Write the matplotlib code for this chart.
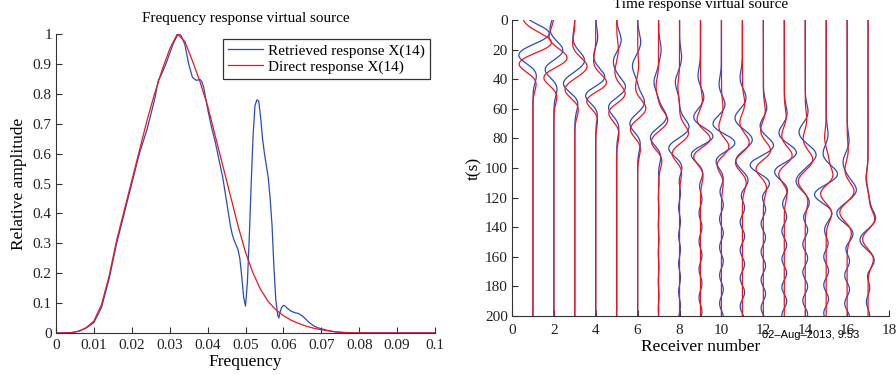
import numpy as np
import matplotlib
matplotlib.use("Agg")
import matplotlib.pyplot as plt

plt.rcParams['font.family'] = ['Liberation Serif', 'DejaVu Serif']

# Frequency response
freq_direct = np.arange(0, 0.1001, 0.002)
amp_direct = np.array([
    0, 0, 0.001, 0.006, 0.018, 0.04, 0.095, 0.19, 0.31, 0.41,
    0.51, 0.61, 0.71, 0.80, 0.88, 0.95, 1.0, 0.975, 0.91, 0.84,
    0.76, 0.66, 0.56, 0.46, 0.36, 0.27, 0.20, 0.145, 0.105, 0.078,
    0.058, 0.043, 0.032, 0.023, 0.016, 0.011, 0.007, 0.004, 0.002, 0.001,
    0, 0, 0, 0, 0, 0, 0, 0, 0, 0, 0])

freq_retr = np.array([
    0, 0.004, 0.006, 0.008, 0.010, 0.012, 0.014, 0.016, 0.018, 0.020,
    0.022, 0.024, 0.026, 0.027, 0.028, 0.029, 0.030, 0.031, 0.032, 0.0325,
    0.033, 0.034, 0.035, 0.036, 0.037, 0.038, 0.0385, 0.039, 0.040, 0.041,
    0.042, 0.043, 0.044, 0.045, 0.046, 0.0465, 0.047, 0.0475, 0.048, 0.0485,
    0.049, 0.0495, 0.050, 0.0505, 0.051, 0.0515, 0.052, 0.0525, 0.053, 0.0535,
    0.054, 0.0545, 0.055, 0.0555, 0.056, 0.0565, 0.057, 0.0575, 0.058, 0.0585,
    0.0588, 0.059, 0.0595, 0.060, 0.0605, 0.061, 0.062, 0.063, 0.064, 0.065,
    0.066, 0.067, 0.068, 0.069, 0.070, 0.071, 0.072, 0.074, 0.076, 0.078, 0.1])
amp_retr = np.array([
    0, 0.001, 0.006, 0.017, 0.035, 0.085, 0.18, 0.30, 0.40, 0.50,
    0.60, 0.68, 0.78, 0.845, 0.87, 0.90, 0.935, 0.97, 0.995, 1.0,
    0.995, 0.965, 0.90, 0.855, 0.845, 0.848, 0.84, 0.82, 0.75, 0.69,
    0.64, 0.58, 0.52, 0.44, 0.36, 0.33, 0.31, 0.295, 0.28, 0.25,
    0.19, 0.12, 0.09, 0.17, 0.32, 0.50, 0.66, 0.76, 0.78, 0.775,
    0.72, 0.65, 0.60, 0.56, 0.52, 0.45, 0.36, 0.22, 0.11, 0.06,
    0.05, 0.065, 0.085, 0.092, 0.09, 0.083, 0.073, 0.068, 0.065, 0.057,
    0.045, 0.033, 0.024, 0.018, 0.014, 0.011, 0.007, 0.003, 0.001, 0, 0])

# Time response: lobe times (s) and amplitudes (receiver units) per trace
receivers = np.arange(1, 18)
red_lobe_t = [
    [-1, 15.5, 29.5, 41], [12, 26, 38.5, 50], [17, 31.5, 47, 59],
    [29, 43, 54, 65], [20, 36, 50.5, 62, 76], [30, 47, 60, 73.5, 86],
    [45, 68, 82, 94], [45, 77, 90, 101], [55, 68, 81, 91, 104],
    [60, 73, 86, 97, 109], [57, 70, 83, 96, 109], [62, 75, 89, 100, 112],
    [66, 79, 92, 103.5, 116], [68, 81, 94.5, 109, 121], [80, 93, 106, 117, 130],
    [88, 102, 116, 130, 143], [106, 121, 135, 148, 161]]
red_lobe_a = [
    [-0.48, 0.92, -0.72, 0.2], [-0.25, 0.68, -0.55, 0.18], [-0.12, 0.6, -0.5, 0.2],
    [-0.12, 0.58, -0.52, 0.12], [0.08, -0.1, 0.45, -0.43, 0.12], [0.05, -0.12, 0.42, -0.38, 0.15],
    [-0.12, 0.45, -0.38, 0.18], [-0.08, 0.45, -0.4, 0.13], [0.1, -0.2, 0.55, -0.42, 0.14],
    [0.08, -0.15, 0.4, -0.26, 0.1], [0.12, -0.15, 0.36, -0.37, 0.2], [0.1, -0.15, 0.4, -0.42, 0.18],
    [0.1, -0.15, 0.42, -0.32, 0.15], [0.08, -0.12, 0.38, -0.36, 0.15], [-0.08, 0.1, 0.35, -0.33, 0.28],
    [0.06, -0.12, 0.35, -0.38, 0.22], [-0.08, 0.04, 0.33, -0.3, 0.27]]
blue_lobe_t = [
    [-3, 9, 23.5, 36], [7, 21, 33, 45], [13, 27.5, 43, 55],
    [12, 25, 39.5, 50.5, 61], [14, 28, 46, 58.5, 72], [15, 31, 56, 70, 82],
    [20, 42, 66, 79, 91], [25, 42, 73, 86.5, 98], [38, 53, 66.5, 79, 90, 102],
    [44, 58, 71, 83, 94, 106], [40, 53, 66.5, 81, 95, 108], [60, 72, 85.5, 98, 109],
    [64, 77, 90, 102, 114], [63, 76, 91, 109, 123], [78, 91, 104.5, 118, 129.5, 141],
    [82, 96, 115, 131, 144], [107, 121, 134.5, 148.5, 162]]
blue_lobe_a = [
    [-0.45, 0.85, -0.72, 0.2], [-0.2, 0.48, -0.48, 0.18], [-0.1, 0.48, -0.57, 0.18],
    [0.1, -0.12, 0.5, -0.57, 0.12], [0.22, -0.17, 0.45, -0.43, 0.12], [0.15, -0.25, 0.34, -0.4, 0.15],
    [0.12, -0.22, 0.4, -0.43, 0.13], [0.1, -0.2, 0.48, -0.56, 0.16], [-0.12, 0.18, -0.38, 0.7, -0.54, 0.15],
    [-0.12, 0.2, -0.48, 0.74, -0.35, 0.12], [-0.12, 0.2, -0.38, 0.5, -0.35, 0.3], [0.18, -0.2, 0.55, -0.73, 0.38],
    [0.15, -0.3, 0.65, -0.54, 0.2], [0.15, -0.32, 0.53, -0.45, 0.22], [0.1, -0.18, 0.58, -0.63, 0.35, -0.12],
    [0.1, -0.2, 0.45, -0.52, 0.32], [-0.1, 0.05, 0.37, -0.42, 0.32]]
# residual ringing on the retrieved traces after the main arrival
blue_tail_amp = [0, 0, 0, 0, 0, 0, 0.02, 0.05, 0.08, 0.1, 0.12, 0.12, 0.13, 0.13, 0.13, 0.13, 0.09]
tail_half_period = 9.5

t = np.linspace(0, 200, 801)


def wiggle(lobe_t, lobe_a, tail=0.0, sigma=5.6):
    w = np.zeros_like(t)
    for tc, a in zip(lobe_t, lobe_a):
        w += a * np.exp(-0.5 * ((t - tc) / sigma) ** 2)
    if tail > 0:
        sign = -np.sign(lobe_a[-1])
        for tc in np.arange(lobe_t[-1] + tail_half_period, 210, tail_half_period):
            w += sign * tail * np.exp(-0.5 * ((t - tc) / 4.0) ** 2)
            sign = -sign
    return w


blue = '#2b4bbd'
red = '#f0141e'

fig = plt.figure(figsize=(8.96, 3.75), dpi=100)

# Left: frequency response
ax1 = fig.add_axes([0.0625, 0.112, 0.4230, 0.7973])
ax1.plot(freq_retr, amp_retr, color=blue, lw=0.9, label='Retrieved response X(14)')
ax1.plot(freq_direct, amp_direct, color=red, lw=0.9, label='Direct response X(14)')
ax1.set_xlim(0, 0.1)
ax1.set_ylim(0, 1)
ax1.set_xticks(np.arange(0, 0.1001, 0.01))
ax1.set_xticklabels(['0', '0.01', '0.02', '0.03', '0.04', '0.05', '0.06', '0.07', '0.08', '0.09', '0.1'])
ax1.set_yticks(np.arange(0, 1.001, 0.1))
ax1.set_yticklabels(['0', '0.1', '0.2', '0.3', '0.4', '0.5', '0.6', '0.7', '0.8', '0.9', '1'])
ax1.set_title('Frequency response virtual source', fontsize=10.9, pad=8.5)
ax1.set_xlabel('Frequency', fontsize=12.5, labelpad=1)
ax1.set_ylabel('Relative amplitude', fontsize=12.5, labelpad=4)
leg = ax1.legend(loc='upper right', fontsize=11, handlelength=2.3, fancybox=False,
                 borderaxespad=0.35, borderpad=0.3, labelspacing=0.15, handletextpad=0.35)
leg.get_frame().set_edgecolor('black')
leg.get_frame().set_linewidth(0.9)

# Right: time response
ax2 = fig.add_axes([0.5714, 0.1573, 0.4208, 0.7894])
for i, r in enumerate(receivers):
    wb = wiggle(blue_lobe_t[i], blue_lobe_a[i], blue_tail_amp[i])
    ax2.plot(r + wb, t, color=blue, lw=0.9)
for i, r in enumerate(receivers):
    wr = wiggle(red_lobe_t[i], red_lobe_a[i])
    ax2.plot(r + wr, t, color=red, lw=0.9)
ax2.set_xlim(0, 18)
ax2.set_ylim(200, 0)
ax2.set_xticks(np.arange(0, 19, 2))
ax2.set_yticks(np.arange(0, 201, 20))
ax2.set_title('Time response virtual source', fontsize=10.9, pad=8.5)
ax2.set_xlabel('Receiver number', fontsize=12.5, labelpad=2)
ax2.set_ylabel('t(s)', fontsize=12.5, labelpad=2)

for ax in (ax1, ax2):
    ax.spines['top'].set_visible(False)
    ax.spines['right'].set_visible(False)
    for s in ('left', 'bottom'):
        ax.spines[s].set_linewidth(0.8)
        ax.spines[s].set_color('#333333')
    ax.tick_params(direction='in', length=4, width=0.8, labelsize=11, pad=3, colors='#333333')
    ax.tick_params(labelcolor='#222222')
ax1.tick_params(axis='x', pad=4.5)
ax2.tick_params(axis='x', pad=5.5)

fig.text(762 / 896, 1 - 335 / 375, '02\u2013Aug\u20132013, 9:53', fontsize=8,
         family='Liberation Sans', va='center', ha='left')

fig.savefig('out.png', dpi=100)
